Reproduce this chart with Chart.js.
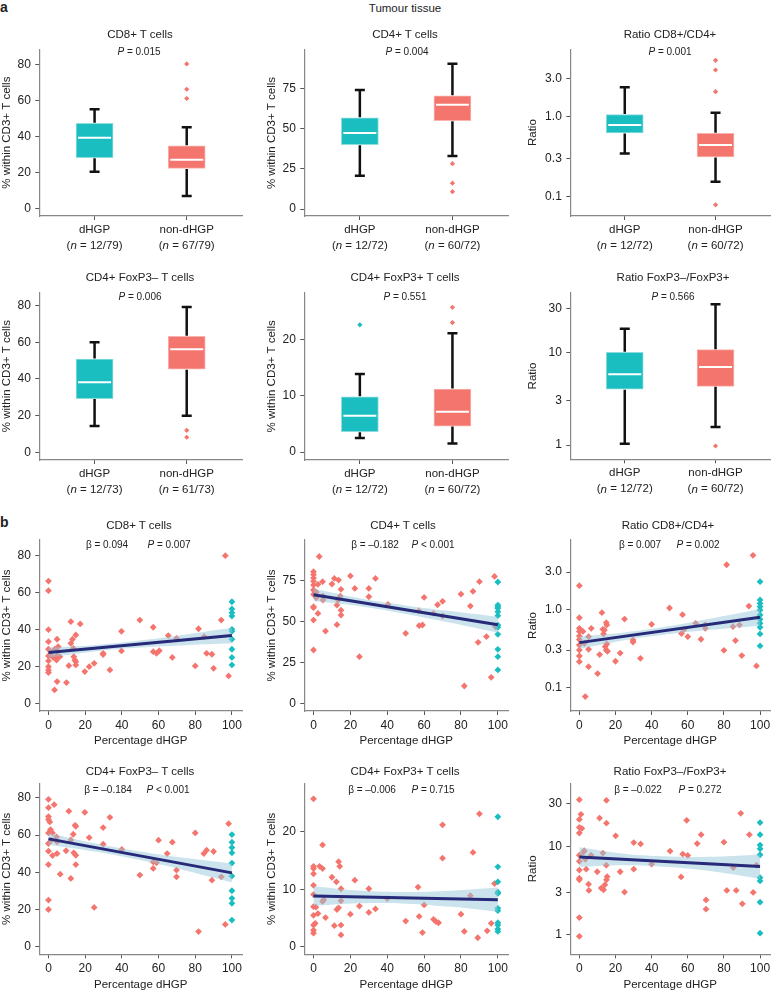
<!DOCTYPE html>
<html><head><meta charset="utf-8">
<script src="https://cdn.jsdelivr.net/npm/chart.js@4.4.1/dist/chart.umd.min.js"></script>
<style>
body{margin:0;width:773px;height:991px;position:relative;background:#fff;overflow:hidden;font-family:"Liberation Sans",Arial,sans-serif;color:#222}
.t{position:absolute;white-space:nowrap;transform:translate(-50%,-50%);font-size:11.5px;line-height:1}
.s{font-size:10px}
.lab{position:absolute;font-weight:bold;font-size:14px;line-height:1;transform:translateY(-50%)}
canvas{position:absolute}
</style></head><body>
<script>
// ================= DATA =================
const groups = ['dHGP', 'non-dHGP'];
// box statistics per group: [lower whisker, Q1, median, Q3, upper whisker]
const cd8Box = [[20.6, 28.3, 39.4, 47.4, 55.2], [7.2, 22.4, 27.2, 34.9, 45.2]];
const cd8Out = [[], [80.2, 66.2, 61.1]];
const cd8N = ['12/79', '67/79'];
const cd4Box = [[20.7, 40.0, 47.2, 56.7, 73.9], [32.9, 54.9, 64.8, 70.4, 90.3]];
const cd4Out = [[], [28.2, 16.1, 10.8]];
const cd4N = ['12/72', '60/72'];
const r84Box = [[0.345, 0.625, 0.787, 1.06, 2.33], [0.153, 0.313, 0.442, 0.619, 1.12]];
const r84Out = [[], [5.06, 3.83, 2.05, 0.0787]];
const r84N = ['12/72', '60/72'];
const fnBox = [[14.4, 29.3, 38.2, 50.9, 60.0], [20.0, 45.3, 56.2, 63.3, 79.3]];
const fnOut = [[], [12.0, 8.2]];
const fnN = ['12/73', '61/73'];
const fpBox = [[2.5, 3.6, 6.45, 9.8, 13.85], [1.5, 4.6, 7.16, 11.2, 21.1]];
const fpOut = [[22.6], [25.7, 23.0]];
const fpN = ['12/72', '60/72'];
const rfBox = [[1.03, 4.02, 5.86, 10.1, 18.2], [1.57, 4.32, 7.02, 10.8, 33.5]];
const rfOut = [[], [0.976]];
const rfN = ['12/72', '60/72'];
const boxP = ['0.015', '0.004', '0.001', '0.006', '0.551', '0.566'];

// tick values / labels
const ticks80 = [0, 20, 40, 60, 80];
const ticks75 = [0, 25, 50, 75];
const ticks20 = [0, 10, 20];
const ticksR1 = [0.1, 0.3, 1, 3];
const labelsR1 = ['0.1', '0.3', '1.0', '3.0'];
const ticksR2 = [1, 3, 10, 30];
const labelsR2 = ['1', '3', '10', '30'];
const xTicksPct = [0, 20, 40, 60, 80, 100];

// scatter: non-dHGP points [percentage dHGP, value]; dHGP (100 %) values
const cd8Pts = [[0,66.3],[0,61.1],[0,40],[0,33.5],[0,29.4],[0,25.8],[0,23.1],[0,20],[0,16.8],[0,18.2],
 [1.6,27.7],[3.4,29.4],[4.7,28.5],[4.7,26],[2.5,25],[3.3,7.4],[4.7,11.9],[4.7,34.8],[5.3,30.8],[4.4,23.6],[6.2,25.4],
 [9.8,11.4],[11.1,20.5],[12.2,44.3],[12.2,32.6],[13.1,34.8],[13.5,29.9],[13.8,25.4],[14.4,23.6],[14.9,37.1],[14.9,22.7],[14.9,20.9],
 [17.3,43.1],[19.8,17.3],[22.2,20],[24.9,21.8],[29.8,27.2],[29.8,26.5],[33.5,18.2],[39.8,39.1],[39.8,28.5],[49.8,45.2],
 [57.1,41.3],[57.1,28.1],[58.9,27.2],[60.4,28.6],[65.3,36.8],[67.5,25],[69.8,35.3],[80,20.4],[81.8,40.5],[84.9,36.2],
 [86.2,27.2],[89.1,26.7],[90,19.1],[94.2,45.2],[96.4,80],[98.2,15]];
const cd8Teal = [55.1, 51.2, 49.2, 47.4, 40.2, 39.1, 34.8, 29.4, 25, 20.9];
const cd4Pts = [[0,80.5],[0,78.7],[0,76.6],[0,74.6],[0,72.3],[0,69.3],[0,66.6],[0,59.1],[0,58.5],[0,50.9],[0,32.6],
 [3.1,89.8],[2.4,72.8],[2.4,55],[4.9,74.4],[5.1,65.6],[5.1,63.2],[6.5,44.2],[1.5,68],[1.5,64.5],
 [10,73],[11.3,76.4],[12.7,48.1],[12.7,60.1],[13.6,75.4],[13.3,63.2],[14.5,65.6],[14.9,69.7],[14.9,57],[14.9,54],
 [20,77.9],[22.4,70.3],[24.9,28.5],[30,70.3],[30,65.2],[33.6,76.4],[40.4,60.5],[50,42.8],[57.1,56.5],[57.3,47.5],
 [59.1,47.9],[60,64.8],[65.1,55],[67.3,60.3],[70,62.4],[70,53.4],[80,66.8],[81.8,10.6],[85.1,59.5],[86.5,68.5],
 [89.3,37.3],[90,74.4],[93.8,40.8],[96.4,15.9],[98.2,77.6],[98.7,46.8]];
const cd4Teal = [74.2, 60.1, 59, 58.1, 56, 53.6, 47.9, 46.5, 42.2, 33, 28.5, 20.4];
const r84Pts = [[0,2.01],[0,0.78],[0,0.57],[0,0.52],[0,0.455],[0,0.41],[0,0.349],[0,0.3],[0,0.252],[0,0.213],
 [0.9,0.54],[2,0.52],[3.3,0.076],[2.8,0.367],[5.1,0.446],[5.1,0.307],[5.1,0.184],[6.6,0.57],
 [10.1,0.15],[11.2,0.263],[12.5,0.906],[13,0.554],[13.4,0.483],[13.9,0.543],[14.3,0.332],[14.9,0.3],[14.9,0.675],[15.2,0.63],[15.2,0.36],[15.6,0.29],
 [20,0.216],[22.6,0.275],[25,0.75],[29.7,0.404],[29.7,0.38],[33.8,0.235],[40,0.642],[49.9,1.04],[56.5,0.49],[57.1,0.855],
 [58,0.554],[60,0.446],[64.4,0.662],[67.3,0.413],[69.7,0.57],[69.7,0.63],[80,0.298],[81.5,3.73],[85,0.6],[86.4,0.397],
 [88.6,0.63],[89.9,0.255],[93.8,1.1],[96.1,4.92],[98,0.188]];
const r84Teal = [2.26, 1.32, 1.19, 1.08, 0.98, 0.846, 0.744, 0.662, 0.588, 0.483, 0.339];
const fnPts = [[0,79.3],[0,74.8],[0,70],[0,68.4],[0,61.2],[0,55.5],[0,51.4],[0,44.2],[0,25.1],[0,20],
 [0.7,67.1],[1.1,63],[1.6,57.3],[2.2,61.2],[2.2,49],[3.1,76.4],[4.4,59],[4.7,56.4],[4.7,50.1],[6.4,39],
 [9.6,51.6],[11.1,72.9],[12.2,36.7],[12.2,57.4],[13.5,60.5],[13.8,50.5],[14.5,65.3],[14.9,64.8],[14.9,49.2],[14.9,44.2],
 [19.8,72.3],[22.2,58.7],[24.9,21.1],[29.8,64.1],[29.8,55.1],[33.5,69.6],[40,52.3],[49.8,38.5],[57.1,42.1],[57.1,45.6],
 [58.9,45.1],[60,57.3],[64.7,50.1],[67.5,56.2],[69.8,41.2],[69.8,37.6],[80,61.2],[81.8,8.1],[84.7,50.1],[86.2,51.9],
 [89.1,35.8],[90,51.2],[94.2,37.6],[96.4,12],[98.2,66.2]];
const fnTeal = [60.3, 56.2, 53.3, 50.5, 45, 38, 30.1, 26, 23.3, 14.3];
const fpPts = [[0,25.7],[0,14],[0,13.6],[0,12.7],[0,10.7],[0,9.1],[0,7],[0,5.5],[0,3.8],[0,2.9],[0,2.4],
 [0.9,4.1],[1.3,6.9],[2.4,5.8],[3.3,14],[4.9,17.7],[4.9,13.6],[4.9,7.9],[5.5,8.2],[6.5,5.1],
 [10,12.1],[11.3,3.7],[12.4,11.3],[12.7,6.5],[13.6,6.8],[13.6,14.8],[14.2,14],[14.9,10.1],[14.9,8],[14.9,3.8],[14.9,2.1],
 [20,5.7],[22.4,11.6],[24.9,7.1],[30,10.1],[30,6],[33.6,6.6],[40,8.4],[50,4.5],[56.7,10.4],[57.3,5.3],[59.1,2.5],
 [60,7.3],[65.1,4.8],[66.4,4.4],[67.8,4.2],[70,21.2],[70,15.4],[80,5.7],[81.8,2.7],[85.1,8.9],[86.5,16.4],[89.1,1.6],
 [90,23.1],[94.2,2.8],[96.4,4.1],[98.2,11]];
const fpTeal = [22.6, 13.9, 11.3, 9.5, 9.3, 6.7, 6.3, 4.2, 3.8, 3.1, 2.7];
const rfPts = [[0,33.6],[0,20.1],[0,16.3],[0,14.1],[0,7.9],[0,6.76],[0,5.37],[0,4.34],[0,4.17],[0,1.56],[0,0.958],
 [0.9,22.9],[1.4,15.9],[2.3,8.58],[2.7,8.9],[3.3,7.1],[3.8,5.5],[5.1,3.72],[5.3,3.16],[6.5,7.9],
 [9.9,5.14],[11.2,20.8],[12.1,3.36],[13,8.36],[13.4,3.22],[14.1,3.66],[14.9,6.1],[15,18.2],[15,33],[15.4,4.52],[15,4.17],
 [20.1,13.1],[22.6,5.14],[25,3.03],[30.1,11],[30.1,5.5],[33.9,10.6],[40,6.26],[50.2,8.8],[56.3,4.49],[57.2,8.15],
 [59.4,19.6],[60,7.87],[65.2,10.7],[67.4,13.5],[70.1,2.47],[70.1,1.94],[80,11.1],[81.6,3.16],[85.2,5.74],[86.8,3.16],
 [89.3,23.5],[90.2,2.23],[94.1,13.5],[96.2,3],[98,6.1]];
const rfTeal = [18.5, 13.5, 10.3, 9.34, 8.01, 4.41, 4.05, 2.33, 1.04];

// regression fits (value at 0 % and 100 % dHGP) and confidence bands
const regX = [0, 100];
const bandX = [0, 25, 50, 75, 100];
const cd8Reg = [27.6, 36.8];
const cd8Lo = [24.9, 28.2, 30.3, 31.6, 32.6];
const cd8Hi = [30.3, 31.6, 34.1, 37.4, 41.0];
const cd4Reg = [66.4, 48.1];
const cd4Lo = [62.6, 59.4, 54.7, 49.1, 43.2];
const cd4Hi = [70.2, 64.2, 59.9, 56.3, 53.0];
const r84Reg = [0.374, 0.789];
const r84Lo = [0.310, 0.402, 0.484, 0.551, 0.617];
const r84Hi = [0.451, 0.506, 0.610, 0.778, 1.01];
const fnReg = [58.0, 39.7];
const fnLo = [54.8, 51.2, 46.6, 40.9, 34.7];
const fnHi = [61.2, 55.6, 51.2, 47.7, 44.7];
const fpReg = [8.84, 8.2];
const fpLo = [7.14, 7.58, 7.52, 6.96, 6.1];
const fpHi = [10.54, 9.78, 9.52, 9.76, 10.3];
const rfReg = [7.55, 5.89];
const rfLo = [5.85, 6.11, 5.81, 5.15, 4.30];
const rfHi = [9.75, 8.24, 7.66, 7.62, 8.07];
const betas = ['0.094', '–0.182', '0.007', '–0.184', '–0.006', '–0.022'];
const regP = ['= 0.007', '< 0.001', '= 0.002', '< 0.001', '= 0.715', '= 0.272'];

// ================= STYLE / LAYOUT =================
const TEAL = '#1BBEC0', SALMON = '#F4756D', NAVY = '#262A78', BAND = 'rgba(150,200,218,0.5)';
const FONT = '"Liberation Sans", Arial, sans-serif';
Chart.defaults.font.family = FONT;
Chart.defaults.color = '#222';
const LH = 6.9; // half line height of 11.5px titles

function txt(html, x, y, cls) {
  const d = document.createElement('div');
  d.className = 't ' + (cls || '');
  d.innerHTML = html;
  d.style.left = x + 'px'; d.style.top = y + 'px';
  document.body.appendChild(d);
}
function lab(s, x, y) {
  const d = document.createElement('div');
  d.className = 'lab'; d.textContent = s;
  d.style.left = x + 'px'; d.style.top = y + 'px';
  document.body.appendChild(d);
}

function makeCanvas(a, wy, hx) {
  const left = Math.round(a.l - wy), top = Math.round(a.t - 14);
  const W = Math.round(a.r + 14) - left, H = Math.round(a.b + hx) - top;
  const c = document.createElement('canvas');
  c.width = W; c.height = H;
  c.style.left = left + 'px'; c.style.top = top + 'px';
  document.body.appendChild(c);
  return {c, left, top, W, H, wy: a.l - left, hx: top + H - a.b, padTop: a.t - top, padRight: left + W - a.r};
}

function yAxis(g, s) {
  return {
    type: s.log ? 'logarithmic' : 'linear',
    min: s.yMin, max: s.yMax,
    afterBuildTicks: sc => { sc.ticks = s.ticks.map(v => ({value: v})); },
    afterFit: sc => { sc.width = g.wy; },
    ticks: {callback: (v, i) => s.tickLabels[i], font: {size: 12}, color: '#222', padding: 4.5, autoSkip: false},
    grid: {display: true, drawOnChartArea: false, drawTicks: true, tickLength: 4, tickColor: '#555', tickWidth: 1},
    border: {display: true, color: '#888', width: 1.2},
    title: {display: true, text: s.yTitle, font: {size: 11.5}, color: '#222',
            padding: {top: s.ytx - g.left - LH, bottom: 0}}
  };
}

function boxChart(s) {
  const g = makeCanvas(s.area, s.wy, 40);
  const boxes = s.box;
  const plugin = {
    id: 'boxDecor',
    afterDatasetsDraw(chart) {
      const {ctx, scales: {x, y}} = chart;
      ctx.save();
      boxes.forEach((b, i) => {
        const px = x.getPixelForValue(i);
        const [wl, q1, md, q3, wh] = b.map(v => y.getPixelForValue(v));
        ctx.strokeStyle = '#111'; ctx.lineWidth = 2.5; ctx.lineCap = 'butt';
        ctx.beginPath();
        ctx.moveTo(px, wl); ctx.lineTo(px, q1 + 0.5);
        ctx.moveTo(px, q3 - 0.5); ctx.lineTo(px, wh);
        ctx.moveTo(px - 5, wl); ctx.lineTo(px + 5, wl);
        ctx.moveTo(px - 5, wh); ctx.lineTo(px + 5, wh);
        ctx.stroke();
        ctx.strokeStyle = '#fff'; ctx.lineWidth = 2;
        ctx.beginPath(); ctx.moveTo(px - 16.5, md); ctx.lineTo(px + 16.5, md); ctx.stroke();
      });
      ctx.restore();
    },
    afterDraw(chart) {
      const {ctx, scales: {x}, chartArea} = chart;
      ctx.save();
      ctx.fillStyle = '#222'; ctx.textBaseline = 'middle';
      groups.forEach((name, i) => {
        const px = x.getPixelForValue(i);
        ctx.font = '11.5px ' + FONT; ctx.textAlign = 'center';
        ctx.fillText(name, px, chartArea.bottom + 14);
        const parts = [['(', ''], ['n', 'italic '], [' = ' + s.n[i] + ')', '']];
        let total = 0;
        parts.forEach(p => { ctx.font = p[1] + '11.5px ' + FONT; total += ctx.measureText(p[0]).width; });
        let cx = px - total / 2; ctx.textAlign = 'left';
        parts.forEach(p => { ctx.font = p[1] + '11.5px ' + FONT; ctx.fillText(p[0], cx, chartArea.bottom + 30); cx += ctx.measureText(p[0]).width; });
      });
      ctx.restore();
    }
  };
  const colors = [TEAL, SALMON];
  const datasets = [{
    type: 'bar',
    data: boxes.map((b, i) => ({x: i, y: [b[1], b[3]]})),
    backgroundColor: colors, borderColor: ['#8fdcdd', '#f9b3ae'], borderWidth: 1, borderSkipped: false,
    barThickness: 37
  }];
  s.out.forEach((arr, i) => {
    datasets.push({type: 'scatter', data: arr.map(v => ({x: i, y: v})), pointStyle: 'rectRot',
      radius: 2.6, backgroundColor: colors[i], borderWidth: 0});
  });
  new Chart(g.c, {
    type: 'bar',
    data: {datasets},
    plugins: [plugin],
    options: {
      responsive: false, animation: false, devicePixelRatio: 1, events: [],
      layout: {padding: {top: g.padTop, right: g.padRight, left: 0, bottom: 0}},
      plugins: {legend: {display: false}, tooltip: {enabled: false}},
      scales: {
        x: {type: 'linear', min: -0.6, max: 1.6, offset: false,
            afterBuildTicks: sc => { sc.ticks = [{value: 0}, {value: 1}]; },
            afterFit: sc => { sc.height = g.hx; },
            ticks: {callback: () => '', padding: 0},
            grid: {display: true, offset: false, drawOnChartArea: false, drawTicks: true, tickLength: 4, tickColor: '#555'},
            border: {display: true, color: '#888', width: 1.2}},
        y: yAxis(g, s)
      }
    }
  });
  txt(s.title, s.tx, s.ty);
  txt('<i>P</i> = ' + s.p, s.px, s.py, 's');
}

function scatterChart(s) {
  const g = makeCanvas(s.area, s.wy, s.xty + 7.9 - s.area.b);
  const datasets = [
    {type: 'line', data: regX.map((x, i) => ({x, y: s.reg[i]})), borderColor: NAVY, borderWidth: 3, pointRadius: 0, fill: false},
    {type: 'line', data: bandX.map((x, i) => ({x, y: s.hi[i]})), borderColor: 'rgba(0,0,0,0)', pointRadius: 0,
      fill: '+1', backgroundColor: BAND, tension: 0.4},
    {type: 'line', data: bandX.map((x, i) => ({x, y: s.lo[i]})), borderColor: 'rgba(0,0,0,0)', pointRadius: 0, fill: false, tension: 0.4},
    {type: 'scatter', data: s.teal.map(v => ({x: 100, y: v})), pointStyle: 'rectRot', radius: 3.4, backgroundColor: TEAL, borderWidth: 0},
    {type: 'scatter', data: s.pts.map(p => ({x: p[0], y: p[1]})), pointStyle: 'rectRot', radius: 3.4, backgroundColor: SALMON, borderWidth: 0}
  ];
  new Chart(g.c, {
    type: 'scatter',
    data: {datasets},
    options: {
      responsive: false, animation: false, devicePixelRatio: 1, events: [],
      layout: {padding: {top: g.padTop, right: g.padRight, left: 0, bottom: 0}},
      plugins: {legend: {display: false}, tooltip: {enabled: false}},
      scales: {
        x: {type: 'linear', min: -5, max: 105.5,
            afterBuildTicks: sc => { sc.ticks = xTicksPct.map(v => ({value: v})); },
            afterFit: sc => { sc.height = g.hx; },
            ticks: {font: {size: 12}, color: '#222', padding: 3, autoSkip: false, maxRotation: 0},
            grid: {display: true, drawOnChartArea: false, drawTicks: true, tickLength: 4, tickColor: '#555'},
            border: {display: true, color: '#888', width: 1.2},
            title: {display: true, text: 'Percentage dHGP', font: {size: 11.5}, color: '#222',
                    padding: {top: 0, bottom: (g.top + g.H) - s.xty - LH}}},
        y: yAxis(g, s)
      }
    }
  });
  txt(s.title, s.tx, s.ty);
  txt('β = ' + s.beta, s.bx, s.sy, 's');
  txt('<i>P</i> ' + s.p, s.px, s.sy, 's');
}

// ================= BUILD =================
lab('a', 0, 7);
lab('b', 0, 522);
txt('Tumour tissue', 405, 9);

const yPct = '% within CD3+ T cells';
boxChart({area: {l: 39.3, r: 242, t: 49.3, b: 216}, wy: 40.7, ytx: 6.5, yMin: -3.9, yMax: 88.3,
  ticks: ticks80, tickLabels: ticks80.map(String), yTitle: yPct, box: cd8Box, out: cd8Out, n: cd8N,
  title: 'CD8+ T cells', tx: 140, ty: 35, p: boxP[0], px: 139, py: 52.3});
boxChart({area: {l: 304.3, r: 508, t: 50, b: 216}, wy: 40.7, ytx: 271.5, yMin: -4.3, yMax: 98.8,
  ticks: ticks75, tickLabels: ticks75.map(String), yTitle: yPct, box: cd4Box, out: cd4Out, n: cd4N,
  title: 'CD4+ T cells', tx: 405, ty: 35, p: boxP[1], px: 407, py: 52.3});
boxChart({area: {l: 570.3, r: 770, t: 49.3, b: 216}, wy: 44.9, ytx: 533.3, log: true, yMin: 0.057, yMax: 6.95,
  ticks: ticksR1, tickLabels: labelsR1, yTitle: 'Ratio', box: r84Box, out: r84Out, n: r84N,
  title: 'Ratio CD8+/CD4+', tx: 670, ty: 35, p: boxP[2], px: 670, py: 52.3});
boxChart({area: {l: 39.3, r: 242, t: 292.3, b: 460}, wy: 40.7, ytx: 6.5, yMin: -4.2, yMax: 87.3,
  ticks: ticks80, tickLabels: ticks80.map(String), yTitle: yPct, box: fnBox, out: fnOut, n: fnN,
  title: 'CD4+ FoxP3– T cells', tx: 140, ty: 278.3, p: boxP[3], px: 140, py: 297.3});
boxChart({area: {l: 304.3, r: 508, t: 292.7, b: 460}, wy: 40.7, ytx: 271.5, yMin: -1.42, yMax: 28.3,
  ticks: ticks20, tickLabels: ticks20.map(String), yTitle: yPct, box: fpBox, out: fpOut, n: fpN,
  title: 'CD4+ FoxP3+ T cells', tx: 405, ty: 278.3, p: boxP[4], px: 405, py: 297.3});
boxChart({area: {l: 570.3, r: 770, t: 292.7, b: 459.3}, wy: 44.9, ytx: 533.3, log: true, yMin: 0.73, yMax: 44.7,
  ticks: ticksR2, tickLabels: labelsR2, yTitle: 'Ratio', box: rfBox, out: rfOut, n: rfN,
  title: 'Ratio FoxP3–/FoxP3+', tx: 673, ty: 278.3, p: boxP[5], px: 673, py: 297.3});

scatterChart({area: {l: 39.3, r: 242, t: 540, b: 711}, wy: 40.7, ytx: 6.5, xty: 741, yMin: -4, yMax: 88.5,
  ticks: ticks80, tickLabels: ticks80.map(String), yTitle: yPct, pts: cd8Pts, teal: cd8Teal,
  reg: cd8Reg, lo: cd8Lo, hi: cd8Hi, title: 'CD8+ T cells', tx: 139, ty: 526, beta: betas[0], p: regP[0], bx: 107, px: 169, sy: 545});
scatterChart({area: {l: 304.3, r: 508, t: 540, b: 711}, wy: 40.7, ytx: 271.5, xty: 741, yMin: -4.7, yMax: 99.9,
  ticks: ticks75, tickLabels: ticks75.map(String), yTitle: yPct, pts: cd4Pts, teal: cd4Teal,
  reg: cd4Reg, lo: cd4Lo, hi: cd4Hi, title: 'CD4+ T cells', tx: 403, ty: 526, beta: betas[1], p: regP[1], bx: 375, px: 433, sy: 545});
scatterChart({area: {l: 570.3, r: 770, t: 540, b: 711}, wy: 44.9, ytx: 533.3, xty: 741, log: true, yMin: 0.0497, yMax: 7.74,
  ticks: ticksR1, tickLabels: labelsR1, yTitle: 'Ratio', pts: r84Pts, teal: r84Teal,
  reg: r84Reg, lo: r84Lo, hi: r84Hi, title: 'Ratio CD8+/CD4+', tx: 668, ty: 526, beta: betas[2], p: regP[2], bx: 640, px: 698, sy: 545});
scatterChart({area: {l: 39.3, r: 242, t: 783.3, b: 954.3}, wy: 40.7, ytx: 6.5, xty: 985, yMin: -4.1, yMax: 87.9,
  ticks: ticks80, tickLabels: ticks80.map(String), yTitle: yPct, pts: fnPts, teal: fnTeal,
  reg: fnReg, lo: fnLo, hi: fnHi, title: 'CD4+ FoxP3– T cells', tx: 140, ty: 771.7, beta: betas[3], p: regP[3], bx: 108, px: 168, sy: 790});
scatterChart({area: {l: 304.3, r: 508, t: 783.3, b: 954.3}, wy: 40.7, ytx: 271.5, xty: 985, yMin: -1.27, yMax: 28.4,
  ticks: ticks20, tickLabels: ticks20.map(String), yTitle: yPct, pts: fpPts, teal: fpTeal,
  reg: fpReg, lo: fpLo, hi: fpHi, title: 'CD4+ FoxP3+ T cells', tx: 405, ty: 771.7, beta: betas[4], p: regP[4], bx: 372, px: 433, sy: 790});
scatterChart({area: {l: 570.3, r: 770, t: 783.3, b: 954.3}, wy: 44.9, ytx: 533.3, xty: 985, log: true, yMin: 0.647, yMax: 51.4,
  ticks: ticksR2, tickLabels: labelsR2, yTitle: 'Ratio', pts: rfPts, teal: rfTeal,
  reg: rfReg, lo: rfLo, hi: rfHi, title: 'Ratio FoxP3–/FoxP3+', tx: 670, ty: 771.7, beta: betas[5], p: regP[5], bx: 638, px: 700, sy: 790});
</script>
</body></html>
